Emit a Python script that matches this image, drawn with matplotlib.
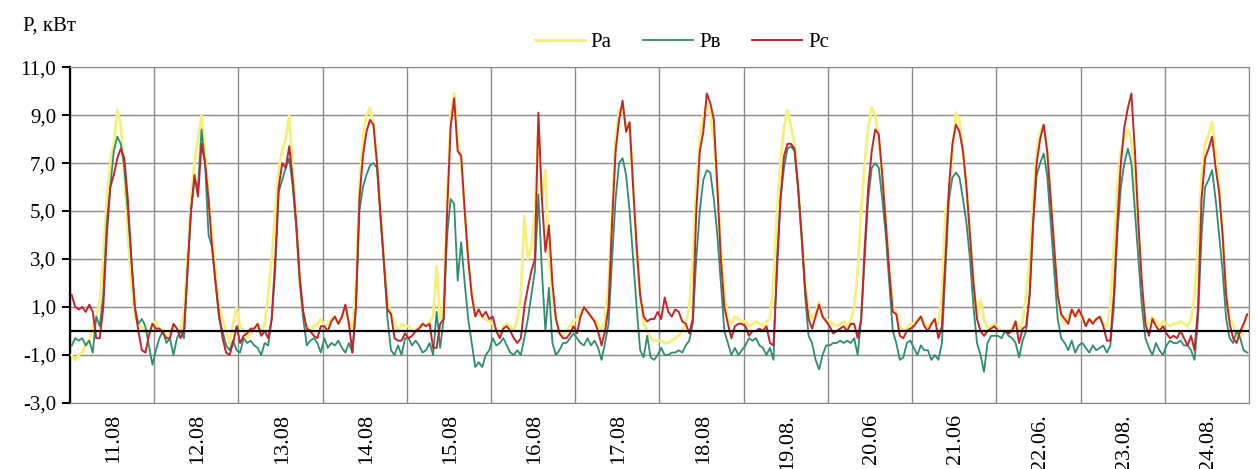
import numpy as np
import matplotlib
matplotlib.use("Agg")
import matplotlib.pyplot as plt

plt.rcParams['font.family'] = ['Liberation Serif', 'DejaVu Serif']

# day labels (hourly data, 24 points per day)
days = ["11.08", "12.08", "13.08", "14.08", "15.08", "16.08", "17.08",
        "18.08", "19.08.", "20.06", "21.06", "22.06.", "23.08.", "24.08."]

# Pa, kW
pa = [
    [-1.0, -1.2, -1.0, -0.9, -0.6, -0.4, 0.2, 0.6, 1.2, 3.0, 5.5, 7.0, 7.8, 9.2, 8.6, 6.5, 4.0, 2.0, 0.6, 0.3, 0.2, 0.0, -0.1, 0.3],
    [0.4, 0.1, 0.0, -0.2, -0.1, 0.2, 0.0, 0.0, 0.8, 3.0, 5.5, 7.0, 8.0, 9.0, 7.5, 5.5, 4.0, 2.5, 1.0, 0.5, 0.0, -0.5, 0.3, 1.0],
    [0.2, 0.0, -0.3, -0.1, 0.1, 0.2, 0.0, 0.3, 1.5, 3.0, 5.0, 6.8, 7.5, 8.0, 9.0, 6.5, 4.5, 2.0, 0.6, 0.2, 0.0, 0.2, 0.3, 0.5],
    [0.2, 0.3, 0.5, 0.6, 0.3, 0.6, 1.0, 0.4, 0.0, 2.0, 6.0, 8.0, 9.0, 9.3, 8.6, 7.0, 5.0, 3.0, 1.2, 0.8, 0.3, 0.0, 0.3, 0.2],
    [0.2, 0.0, 0.0, 0.2, 0.3, 0.2, 0.4, 0.6, 2.7, 0.5, 1.0, 5.5, 9.0, 9.9, 8.0, 7.0, 5.0, 3.0, 1.5, 0.8, 0.7, 0.6, 0.5, 0.4],
    [0.3, 0.0, -0.2, 0.2, 0.3, 0.2, 0.0, 0.5, 1.5, 4.8, 3.0, 3.5, 5.0, 8.5, 5.5, 6.7, 3.0, 1.5, 0.5, 0.0, -0.2, 0.0, 0.2, 0.4],
    [0.5, 0.8, 1.0, 0.8, 0.6, 0.5, 0.3, 0.0, 0.5, 2.0, 5.0, 8.0, 9.2, 9.3, 8.5, 8.5, 6.0, 3.5, 1.5, 0.3, 0.0, -0.3, -0.4, -0.4],
    [-0.4, -0.5, -0.5, -0.4, -0.3, -0.2, 0.0, 0.3, 1.0, 3.0, 6.0, 8.0, 9.0, 9.5, 9.0, 8.0, 6.0, 3.5, 1.5, 0.5, 0.3, 0.6, 0.5, 0.4],
    [0.4, 0.2, 0.3, 0.4, 0.3, 0.2, 0.4, 0.5, 2.0, 5.0, 7.0, 8.5, 9.2, 8.5, 7.8, 6.0, 4.0, 2.0, 0.8, 0.5, 0.8, 1.2, 0.6, 0.5],
    [0.4, 0.3, 0.2, 0.3, 0.4, 0.2, 0.4, 1.0, 2.5, 5.0, 7.0, 8.5, 9.3, 9.0, 8.0, 6.5, 4.5, 2.5, 1.0, 0.8, 0.2, 0.0, 0.1, 0.3],
    [0.3, 0.5, 0.6, 0.3, 0.2, 0.3, 0.5, 0.3, 1.5, 5.0, 5.5, 7.5, 9.1, 8.8, 7.5, 6.0, 4.0, 2.0, 0.6, 1.3, 0.5, 0.1, 0.2, 0.3],
    [0.1, 0.0, 0.0, 0.0, 0.1, 0.4, 0.0, 0.4, 1.5, 3.0, 5.5, 7.5, 8.3, 8.6, 7.5, 5.5, 3.5, 1.5, 0.6, 0.3, 0.6, 0.9, 0.7, 0.8],
    [0.5, 0.3, 0.5, 0.4, 0.5, 0.6, 0.3, 0.2, 1.0, 3.5, 6.0, 7.5, 8.0, 8.4, 8.0, 6.0, 3.5, 1.5, 0.4, 0.3, 0.6, 0.4, 0.2, 0.4],
    [0.3, 0.2, 0.3, 0.3, 0.4, 0.3, 0.2, 0.5, 1.5, 3.5, 6.5, 7.8, 8.2, 8.7, 7.5, 6.0, 4.0, 1.5, 0.5, 0.3, -0.2, -0.3, 0.3, 0.6],
]

# Pв, kW
pb = [
    [-0.6, -0.3, -0.4, -0.3, -0.6, -0.4, -0.9, 0.6, 0.2, 1.5, 4.5, 6.0, 7.5, 8.1, 7.8, 6.8, 5.0, 3.0, 1.0, 0.3, 0.5, 0.2, -0.6, -1.4],
    [-0.8, -0.3, 0.0, -0.5, -0.3, -1.0, -0.3, 0.0, -0.3, 2.5, 5.0, 6.3, 6.0, 8.4, 7.0, 4.0, 3.5, 2.0, 0.5, 0.0, -0.6, -0.8, -0.4, -0.8],
    [-0.9, -0.3, -0.5, -0.4, -0.6, -0.7, -1.0, -0.5, -0.6, 0.5, 2.5, 5.8, 6.3, 6.8, 7.2, 6.0, 4.3, 2.0, 0.5, -0.6, -0.4, -0.3, -0.5, -0.9],
    [-0.3, -0.7, -0.5, -0.6, -0.4, -0.7, -0.9, -0.5, -0.9, 1.0, 5.0, 6.0, 6.5, 6.9, 7.0, 6.8, 4.8, 2.8, 0.5, -0.8, -1.0, -0.6, -1.0, -0.3],
    [-0.3, -0.6, -0.4, -0.6, -0.9, -0.8, -0.5, -1.0, 0.8, -0.7, 0.5, 4.0, 5.5, 5.3, 2.1, 3.7, 2.0, 0.5, -0.5, -1.5, -1.3, -1.5, -1.0, -0.8],
    [-0.3, -0.6, -0.5, -0.3, -0.6, -0.9, -1.0, -0.8, -1.0, -0.3, 0.5, 1.5, 2.5, 5.7, 2.5, 0.0, 1.8, -0.5, -1.0, -0.8, -0.5, -0.5, -0.3, -0.1],
    [-0.3, -0.5, -0.6, -0.3, -0.6, -0.4, -0.7, -1.2, -0.5, 0.3, 3.0, 5.5, 7.0, 7.2, 6.5, 5.0, 3.0, 1.0, -0.8, -1.1, -0.2, -1.1, -1.2, -1.0],
    [-0.7, -1.0, -1.0, -0.9, -0.9, -0.8, -0.9, -0.6, -0.4, 0.3, 3.0, 5.0, 6.3, 6.7, 6.6, 5.5, 4.0, 2.0, 0.0, -0.5, -1.0, -0.7, -1.0, -0.8],
    [-0.6, -0.3, -0.4, -0.3, -0.6, -0.7, -1.0, -0.7, -1.2, 3.0, 5.5, 6.8, 7.6, 7.7, 7.5, 6.0, 4.0, 1.5, -0.2, -0.5, -1.2, -1.6, -1.0, -0.6],
    [-0.6, -0.5, -0.5, -0.4, -0.5, -0.4, -0.5, -0.3, -1.0, 0.5, 3.0, 5.5, 6.8, 7.0, 6.8, 5.5, 4.0, 2.0, 0.0, -0.5, -1.2, -1.1, -0.5, -0.4],
    [-0.7, -1.0, -0.6, -0.8, -0.8, -1.2, -1.0, -1.2, -0.5, 2.5, 5.5, 6.4, 6.6, 6.4, 5.5, 4.5, 3.0, 1.0, -0.5, -1.0, -1.7, -0.5, -0.2, -0.2],
    [-0.2, -0.3, 0.0, -0.2, -0.3, -0.5, -1.1, -0.4, 0.0, 1.5, 4.5, 6.5, 7.0, 7.4, 6.5, 4.5, 2.5, 0.5, -0.3, -0.5, -0.8, -0.4, -0.9, -0.6],
    [-0.5, -0.7, -0.9, -0.6, -0.8, -0.7, -0.6, -0.9, -0.6, 1.0, 4.0, 6.0, 7.0, 7.6, 7.0, 5.0, 3.0, 1.0, -0.3, -0.7, -1.0, -0.5, -0.8, -1.0],
    [-0.6, -0.4, -0.5, -0.5, -0.4, -0.6, -0.6, -0.8, -1.2, 0.5, 4.0, 6.0, 6.3, 6.7, 5.5, 4.0, 2.5, 0.5, -0.3, -0.5, 0.0, -0.3, -0.8, -0.9],
]

# Pc, kW
pc = [
    [1.5, 1.0, 0.9, 1.0, 0.8, 1.1, 0.8, -0.3, -0.3, 1.0, 4.0, 6.0, 6.5, 7.2, 7.6, 7.2, 5.5, 3.0, 1.0, 0.0, -0.8, -0.9, -0.2, 0.3],
    [0.1, 0.1, -0.1, -0.3, -0.3, 0.3, 0.1, -0.3, 0.0, 2.5, 5.0, 6.5, 5.6, 7.8, 7.0, 5.5, 3.5, 2.0, 0.7, -0.3, -0.9, -1.0, -0.5, 0.2],
    [-0.5, -0.2, -0.1, 0.1, 0.1, 0.3, -0.2, 0.0, -0.3, 0.5, 3.0, 6.0, 7.0, 6.8, 7.7, 6.3, 4.5, 2.2, 0.8, 0.1, 0.0, -0.2, -0.3, 0.2],
    [0.2, 0.0, 0.4, 0.6, 0.3, 0.6, 1.1, 0.3, -0.9, 1.0, 5.5, 7.3, 8.3, 8.8, 8.6, 7.0, 4.8, 2.8, 0.9, 0.7, -0.3, -0.4, -0.4, -0.1],
    [-0.3, -0.2, 0.0, 0.1, 0.3, 0.2, 0.3, -0.7, -0.7, 0.3, 0.5, 5.0, 8.5, 9.7, 7.5, 7.3, 5.0, 3.0, 1.5, 0.6, 0.9, 0.6, 0.8, 0.5],
    [0.6, 0.0, -0.3, 0.1, 0.2, 0.0, -0.3, -0.5, -0.3, 1.0, 1.8, 2.5, 3.0, 9.1, 5.5, 3.3, 4.4, 2.0, 0.5, -0.1, -0.3, -0.3, -0.1, 0.2],
    [-0.1, 0.6, 1.0, 0.8, 0.6, 0.4, 0.0, -0.6, 0.0, 1.0, 4.5, 7.5, 8.8, 9.6, 8.3, 8.7, 6.0, 3.5, 1.5, 0.6, 0.4, 0.5, 0.5, 0.8],
    [0.5, 1.4, 0.8, 0.6, 0.9, 0.8, 0.4, 0.3, -0.1, 0.5, 5.0, 7.5, 8.3, 9.9, 9.5, 8.8, 6.0, 3.0, 1.0, 0.3, -0.3, 0.2, 0.3, 0.3],
    [0.2, -0.2, 0.0, 0.0, 0.1, 0.0, 0.2, -0.5, -0.6, 2.5, 5.5, 7.3, 7.8, 7.8, 7.6, 6.0, 4.0, 1.8, 0.5, 0.1, 0.6, 1.1, 0.6, 0.4],
    [0.2, -0.1, 0.0, 0.1, 0.2, 0.0, 0.3, 0.3, -0.3, 0.5, 3.5, 6.0, 7.5, 8.4, 8.2, 6.5, 4.5, 2.5, 0.8, 0.7, -0.2, -0.3, 0.0, 0.1],
    [0.2, 0.4, 0.6, 0.2, 0.0, 0.3, 0.5, -0.3, 0.2, 3.0, 6.0, 7.8, 8.6, 8.3, 7.5, 6.0, 4.0, 2.0, 0.5, 0.0, -0.2, 0.0, 0.1, 0.2],
    [0.0, 0.0, 0.0, -0.1, 0.0, 0.4, -0.5, 0.1, 0.2, 1.5, 4.5, 7.0, 8.0, 8.6, 7.5, 5.5, 3.5, 1.5, 0.7, 0.5, 0.3, 0.9, 0.6, 0.9],
    [0.6, 0.2, 0.5, 0.3, 0.5, 0.6, 0.2, -0.4, -0.4, 1.5, 4.5, 7.0, 8.5, 9.3, 9.9, 7.5, 4.5, 2.0, 0.3, -0.2, 0.5, 0.2, 0.0, 0.2],
    [-0.1, -0.3, -0.2, -0.3, 0.0, -0.3, -0.6, -0.2, -0.8, 1.0, 5.5, 7.2, 7.6, 8.1, 6.8, 5.8, 4.0, 1.5, 0.3, -0.3, -0.5, 0.0, 0.3, 0.7],
]

ya = np.concatenate(pa)
yb = np.concatenate(pb)
yc = np.concatenate(pc)
n_day = 24
x = np.arange(len(ya))

fig = plt.figure(figsize=(12.58, 4.69), dpi=100)
ax = fig.add_axes([0.0556, 0.1407, 0.9372, 0.7163])

ax.plot(x, ya, color='#F4F07A', lw=2.0, label='Pa', zorder=3)
ax.plot(x, yb, color='#2E8C72', lw=1.3, label='Pв', zorder=4)
ax.plot(x, yc, color='#C0262C', lw=1.4, label='Pc', zorder=5)

ax.axhline(0, color='black', lw=1.6, zorder=6)

ax.set_xlim(-0.5, len(x) - 0.5)
ax.set_ylim(-3, 11)

# grid
ax.set_yticks(np.arange(-3, 12, 2))
ax.set_yticklabels([f"{v:.1f}".replace('.', ',') for v in np.arange(-3, 12, 2)], fontsize=15)
ax.set_xticks(np.arange(0, len(x) + 1, n_day) - 0.5, minor=True)
ax.set_xticks(np.arange(len(days)) * n_day + 12)
ax.set_xticklabels(days, rotation=90, fontsize=16)
ax.grid(True, which='minor', axis='x', color='#8A8A8A', lw=1.0)
ax.grid(True, which='major', axis='y', color='#8A8A8A', lw=1.0)
ax.tick_params(axis='x', which='both', length=0, pad=8)
ax.tick_params(axis='y', length=6, width=1.5, direction='out', pad=4)

for s in ['top', 'right', 'bottom']:
    ax.spines[s].set_color('#8A8A8A')
ax.spines['left'].set_color('black')
ax.spines['left'].set_linewidth(1.6)

fig.text(0.018, 0.945, 'P, кВт', fontsize=15, va='center', ha='left')

fig.legend(loc='center', bbox_to_anchor=(0.542, 0.91), ncol=3, frameon=False,
           fontsize=15, handlelength=2.4, handletextpad=0.3, columnspacing=1.5)

fig.savefig('out.png', dpi=100)
